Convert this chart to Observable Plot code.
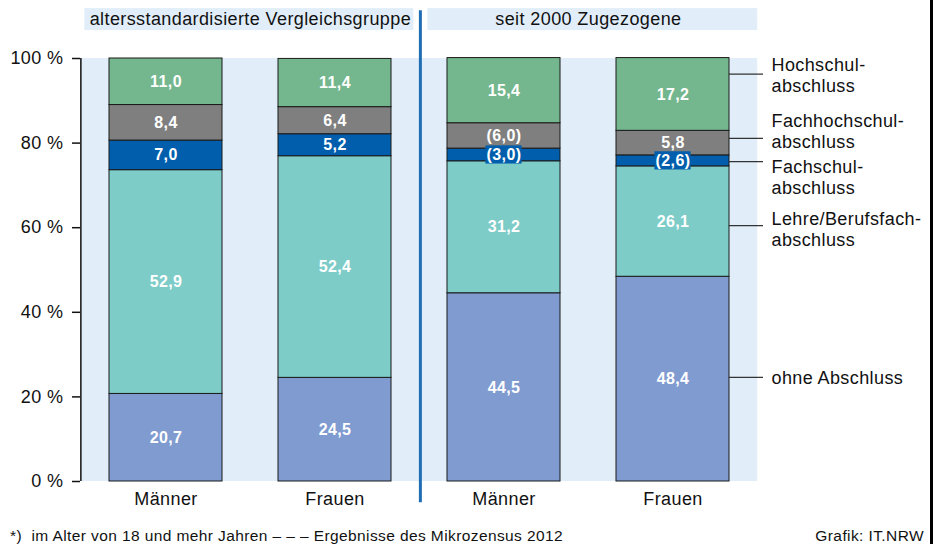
<!DOCTYPE html>
<html><head><meta charset="utf-8">
<script src="https://cdn.jsdelivr.net/npm/d3@7"></script>
<script src="https://cdn.jsdelivr.net/npm/@observablehq/plot@0.6"></script>
<style>
body{margin:0;background:#fff;}
#wrap{position:relative;width:936px;height:544px;overflow:hidden;font-family:"Liberation Sans",Arial,sans-serif;}
#chart svg{display:block;}
#footer{position:absolute;left:0;top:524px;width:936px;height:20px;font-size:15.5px;color:#111;letter-spacing:0.4px;}
#footer .l{position:absolute;left:10px;top:3px;white-space:pre;}
#footer .r{position:absolute;right:12px;top:3px;}
#border{position:absolute;left:930px;top:0;width:3px;height:544px;background:#000;}
g[aria-label="values"] text{letter-spacing:0;}
</style></head><body>
<div id="wrap"><div id="chart"></div>
<div id="footer"><span class="l">*)  im Alter von 18 und mehr Jahren – – – Ergebnisse des Mikrozensus 2012</span><span class="r">Grafik: IT.NRW</span></div>
<div id="border"></div></div>
<script>
// ---- data ----
const groupKeys = ["A-Männer", "A-Frauen", "B-Männer", "B-Frauen"];
const groupNames = ["Männer", "Frauen", "Männer", "Frauen"];
const panelTitles = ["altersstandardisierte Vergleichsgruppe", "seit 2000 Zugezogene"];
const categories = ["ohne Abschluss", "Lehre/Berufsfachabschluss", "Fachschulabschluss", "Fachhochschulabschluss", "Hochschulabschluss"];
const ohneAbschluss = [20.7, 24.5, 44.5, 48.4];
const lehreBerufsfach = [52.9, 52.4, 31.2, 26.1];
const fachschul = [7.0, 5.2, 3.0, 2.6];
const fachhochschul = [8.4, 6.4, 6.0, 5.8];
const hochschul = [11.0, 11.4, 15.4, 17.2];
const uncertainFachschul = [false, false, true, true];
const uncertainFachhochschul = [false, false, true, false];
const yTicks = [0, 20, 40, 60, 80, 100];
const legendLabels = ["Hochschul-\nabschluss", "Fachhochschul-\nabschluss", "Fachschul-\nabschluss", "Lehre/Berufsfach-\nabschluss", "ohne Abschluss"];
const legendLineY = [96.3, 81.1, 75.6, 60.5, 24.6];
const legendTextY = [96.2, 83.0, 72.1, 59.8, 24.6];

// ---- styles ----
const colors = ["#7F9BD0", "#7DCCC8", "#005EAC", "#7F7F7F", "#74B68D"];
const BG = "#E1EEF9";
const DIV = "#1F6DB5";
const W = 936, H = 520, ML = 80, MR = 179, MT = 58, MB = 39;
const PI = 1 / 3, PO = 1 / 6;
const step = (W - ML - MR) / groupKeys.length;
const bw = step * (1 - PI);
const half = (step - bw) / 2;

// ---- build stacked rows ----
const series = [ohneAbschluss, lehreBerufsfach, fachschul, fachhochschul, hochschul];
const uncertain = [null, null, uncertainFachschul, uncertainFachhochschul, null];
const fmt = v => v.toFixed(1).replace(".", ",");
const rows = [];
groupKeys.forEach((g, i) => {
  let acc = 0;
  series.forEach((s, k) => {
    const v = s[i];
    const u = uncertain[k] ? uncertain[k][i] : false;
    rows.push({group: g, cat: categories[k], value: v, y1: acc, y2: acc + v, mid: acc + v / 2,
      label: u ? "(" + fmt(v) + ")" : fmt(v), boxed: u && v < 4});
    acc += v;
  });
});

const boxW = 36;
const chart = Plot.plot({
  width: W, height: H,
  marginLeft: ML, marginRight: MR, marginTop: MT, marginBottom: MB,
  x: {domain: groupKeys, paddingInner: PI, paddingOuter: PO},
  y: {domain: [0, 100]},
  color: {domain: categories, range: colors},
  style: {fontFamily: "'Liberation Sans', Arial, sans-serif", fontSize: "18px", color: "#111", letterSpacing: "0.4px", overflow: "visible"},
  marks: [
    // panel backgrounds
    Plot.barY(groupKeys, {x: d => d, y1: 0, y2: 100, fill: BG, insetLeft: -half, insetRight: -half}),
    // panel title boxes
    Plot.barY(groupKeys, {x: d => d, y1: 106.6, y2: 111.8, fill: BG, insetLeft: -half, insetRight: -half}),
    Plot.ruleX([groupKeys[0]], {y1: 106, y2: 112.5, stroke: "white", strokeWidth: 6, dx: -step / 2}),
    Plot.ruleX([groupKeys[2]], {y1: 106, y2: 112.5, stroke: "white", strokeWidth: 14, dx: -step / 2 + 1}),
    // divider
    Plot.ruleX([groupKeys[2]], {y1: -5, y2: 111.3, stroke: DIV, strokeWidth: 3, dx: -step / 2 + 1}),
    // panel titles
    Plot.text(panelTitles, {x: (d, i) => groupKeys[2 * i + 1], y: 109.2, dx: -step / 2, text: d => d, fontSize: 18, fill: "#111"}),
    // stacked bars
    Plot.barY(rows, {x: "group", y1: "y1", y2: "y2", fill: "cat", stroke: "#1a1a1a", strokeWidth: 1}),
    // label boxes for thin segments
    Plot.barY(rows.filter(d => d.boxed), {x: "group", y1: d => d.mid - 2.15, y2: d => d.mid + 2.15, fill: colors[2], insetLeft: (bw - boxW) / 2, insetRight: (bw - boxW) / 2}),
    // value labels
    Plot.text(rows, {x: "group", y: "mid", text: "label", fill: "white", fontWeight: "bold", fontSize: 16, ariaLabel: "values"}),
    // y axis line
    Plot.ruleX([groupKeys[0]], {y1: 0, y2: 100, dx: -step / 2 - 0.5, stroke: "#111", strokeWidth: 1.5}),
    Plot.axisY({ticks: yTicks, tickFormat: d => d + " %", tickSize: 8, tickPadding: 9, fontSize: 18, stroke: "#111", fill: "#111", strokeWidth: 1.5, label: null}),
    Plot.axisX({tickSize: 0, tickPadding: 11, tickFormat: d => groupNames[groupKeys.indexOf(d)], fontSize: 18, fill: "#111", label: null}),
    // legend leader lines
    Plot.ruleY(legendLineY, {insetLeft: 3 * step + half + bw, insetRight: -6, stroke: "#333", strokeWidth: 1.2}),
    // legend labels
    Plot.text(legendLabels, {y: (d, i) => legendTextY[i], text: d => d, frameAnchor: "right", textAnchor: "start", dx: 14, fontSize: 18, lineHeight: 1.18, fill: "#111"})
  ]
});
document.getElementById("chart").appendChild(chart);
</script>
</body></html>
